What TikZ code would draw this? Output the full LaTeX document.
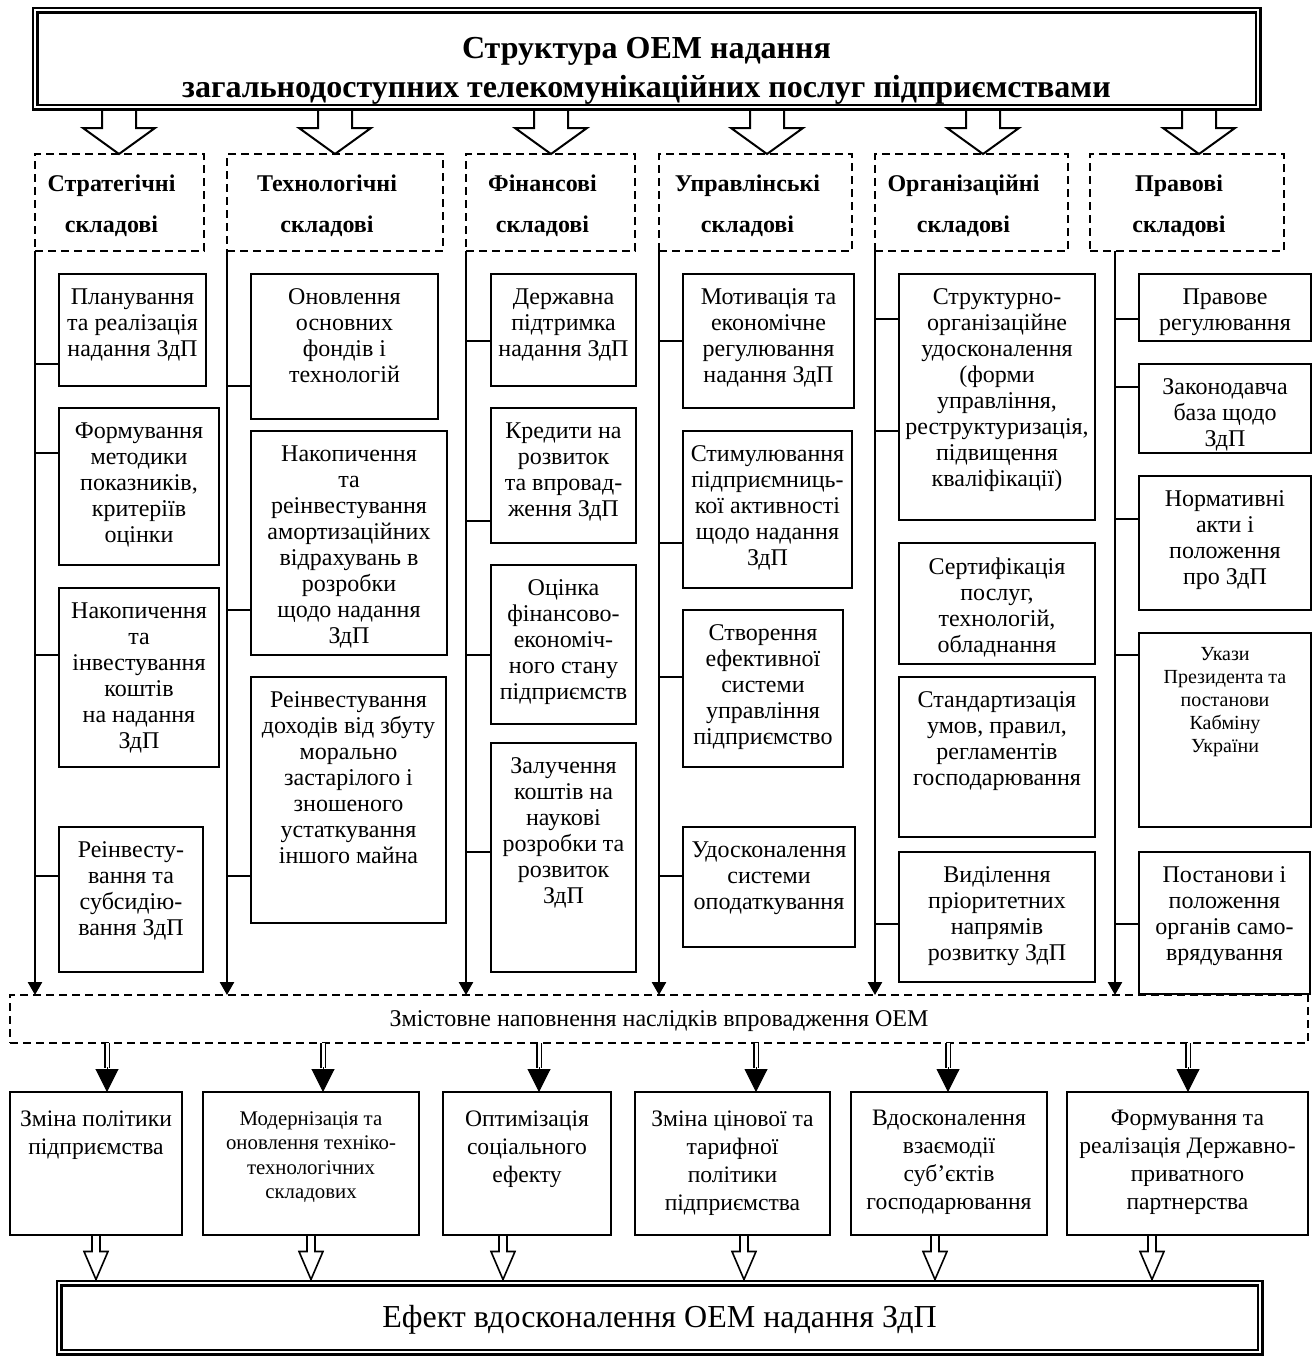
\documentclass[tikz,border=0pt]{standalone}
\usepackage{fontspec}
\setmainfont{Liberation Serif}
\usetikzlibrary{arrows.meta,fit,calc}

\tikzset{
	leaf/.style={draw, line width=1pt, inner sep=0pt, outer sep=0pt},
	leaftext/.style={anchor=north, align=center, inner sep=0pt, font=\fontsize{12}{13}\selectfont},
	catbox/.style={draw, line width=0.9pt, dash pattern=on 4pt off 2.5pt, inner sep=0pt, outer sep=0pt},
	cattext/.style={align=center, inner sep=0pt, font=\bfseries\fontsize{12}{20.5}\selectfont},
	dblbox/.style={draw, line width=1.1pt, double, double distance=1.3pt, inner sep=0pt, outer sep=0pt},
	spine/.style={line width=1.3pt, -{Triangle[length=6.5pt,width=7pt]}},
	tick/.style={line width=1pt},
	twoline/.style={line width=0.9pt, double, double distance=1.5pt},
	solidhead/.style={line width=0.5pt, -{Triangle[length=11.5pt,width=11.5pt]}},
	bigarrow/.style={line width=1pt},
	smallarrow/.style={line width=0.8pt},
	restext/.style={font=\fontsize{11.8}{14}\selectfont, yshift=-2pt},
}

% box with text at the top
\newcommand\leafbox[5][]{%
	\node[leaf, fit={(#3) (#4)}] (#2) {};
	\node[leaftext, #1] (#2-t) at ([yshift=-7pt]#2.north) {#5};
}

% dashed box of a group
\newcommand\catbox[4]{%
	\node[catbox, fit={(#2) (#3)}] (#1) {};
	\node[cattext] (#1-t) at ([xshift=-4pt,yshift=-1.5pt]#1.center) {#4};
}

% hollow block arrow: style, from, to, shaft half width, head half width, head length
\newcommand\blockarrow[6]{%
	\draw[#1] let \p1=(#2), \p2=(#3) in
		(\x1-#4,\y1) -- (\x1-#4,\y2+#6) -- (\x1-#5,\y2+#6) -- (\x2,\y2)
		-- (\x1+#5,\y2+#6) -- (\x1+#4,\y2+#6) -- (\x1+#4,\y1);
}

\begin{document}
\begin{tikzpicture}[x=0.5pt, y=-0.5pt]
	\useasboundingbox (0,0) rectangle (1316,1356);
	
	%% TOP FRAME
	\node[dblbox, fit={(35,10) (1258,107)}] (top) {};
	\node[align=center, inner sep=0pt, font=\bfseries\fontsize{16}{19.5}\selectfont] (title) at ([yshift=-6pt]top.center)
		{Структура ОЕМ надання\\загальнодоступних телекомунікаційних послуг підприємствами};
	\coordinate (topb) at ([yshift=-1.75pt]top.south);
	
	%% CATEGORIES
	\catbox{c1}{35,154}{204,251}{Стратегічні\\складові}
	\catbox{c2}{227,154}{443,251}{Технологічні\\складові}
	\catbox{c3}{466,154}{635,251}{Фінансові\\складові}
	\catbox{c4}{659,154}{852,251}{Управлінські\\складові}
	\catbox{c5}{875,154}{1068,251}{Організаційні\\складові}
	\catbox{c6}{1090,154}{1284,251}{Правові\\складові}
	
	% Arrows from the top frame
	\foreach \i/\px in {1/119, 2/335, 3/551, 4/767, 5/983, 6/1199}
	{
		\coordinate (a\i) at (\px,0);
		\blockarrow{bigarrow}{topb -| a\i}{c\i.north -| a\i}{8.5pt}{18pt}{13pt}
	}
	
	%% BAND
	\node[catbox, fit={(10,995) (1308,1043)}] (band) {};
	\node[inner sep=0pt, font=\fontsize{12}{14}\selectfont] (band-t) at ([yshift=-1pt]band.center)
		{Змістовне наповнення наслідків впровадження ОЕМ};
	
	% Spines
	\coordinate (s1) at (c1.south west);
	\coordinate (s2) at (c2.south west);
	\coordinate (s3) at (c3.south west);
	\coordinate (s4) at (c4.south west);
	\coordinate (s5) at (c5.south west);
	\coordinate (s6) at (1115,251);
	\foreach \i in {1,...,6}
	{
		\draw[spine] (c\i.south -| s\i) -- (band.north -| s\i);
	}
	
	%% STRATEGIC
	\leafbox{A1}{59,274}{206,386}{Планування\\та реалізація\\надання ЗдП}
	\leafbox{A2}{59,408}{219,565}{Формування\\методики\\показників,\\критеріїв\\оцінки}
	\leafbox{A3}{59,588}{219,767}{Накопичення\\та\\інвестування\\коштів\\на надання\\ЗдП}
	\leafbox{A4}{59,827}{203,972}{Реінвесту-\\вання та\\субсидію-\\вання ЗдП}
	
	%% TECHNOLOGICAL
	\leafbox{B1}{251,274}{438,419}{Оновлення\\основних\\фондів і\\технологій}
	\leafbox{B2}{251,431}{447,655}{Накопичення\\та\\реінвестування\\амортизаційних\\відрахувань в\\розробки\\щодо надання\\ЗдП}
	\leafbox{B3}{251,677}{446,923}{Реінвестування\\доходів від збуту\\морально\\застарілого і\\зношеного\\устаткування\\іншого майна}
	
	%% FINANCIAL
	\leafbox{C1}{491,274}{636,386}{Державна\\підтримка\\надання ЗдП}
	\leafbox{C2}{491,408}{636,543}{Кредити на\\розвиток\\та впровад-\\ження ЗдП}
	\leafbox{C3}{491,565}{636,724}{Оцінка\\фінансово-\\економіч-\\ного стану\\підприємств}
	\leafbox{C4}{491,743}{636,972}{Залучення\\коштів на\\наукові\\розробки та\\розвиток\\ЗдП}
	
	%% MANAGEMENT
	\leafbox{D1}{683,274}{854,408}{Мотивація та\\економічне\\регулювання\\надання ЗдП}
	\leafbox{D2}{683,431}{852,588}{Стимулювання\\підприємниць-\\кої активності\\щодо надання\\ЗдП}
	\leafbox{D3}{683,610}{843,767}{Створення\\ефективної\\системи\\управління\\підприємство}
	\leafbox{D4}{683,827}{855,947}{Удосконалення\\системи\\оподаткування}
	
	%% ORGANIZATIONAL
	\leafbox{E1}{899,274}{1095,520}{Структурно-\\організаційне\\удосконалення\\(форми\\управління,\\реструктуризація,\\підвищення\\кваліфікації)}
	\leafbox{E2}{899,543}{1095,664}{Сертифікація\\послуг,\\технологій,\\обладнання}
	\leafbox{E3}{899,677}{1095,837}{Стандартизація\\умов, правил,\\регламентів\\господарювання}
	\leafbox{E4}{899,852}{1095,982}{Виділення\\пріоритетних\\напрямів\\розвитку ЗдП}
	
	%% LEGAL
	\leafbox{F1}{1139,274}{1311,341}{Правове\\регулювання}
	\leafbox{F2}{1139,364}{1311,453}{Законодавча\\база щодо\\ЗдП}
	\leafbox{F3}{1139,476}{1311,610}{Нормативні\\акти і\\положення\\про ЗдП}
	\leafbox[font=\fontsize{10}{11.5}\selectfont]{F4}{1139,633}{1311,827}{Укази\\Президента та\\постанови\\Кабміну\\України}
	\leafbox{F5}{1139,852}{1310,994}{Постанови і\\положення\\органів само-\\врядування}
	
	% Ticks from the spines
	\foreach \s/\b/\y in {s1/A1/364, s1/A2/453, s1/A3/655, s1/A4/876,
		s2/B1/386, s2/B2/610, s2/B3/876,
		s3/C1/341, s3/C2/521, s3/C3/655, s3/C4/852,
		s4/D1/341, s4/D2/543, s4/D3/677, s4/D4/876,
		s5/E1/319, s5/E1/431, s5/E4/924,
		s6/F1/319, s6/F2/387, s6/F3/519, s6/F4/655, s6/F5/924}
	{
		\coordinate (h) at (0,\y);
		\draw[tick] (\s |- h) -- (\b.west |- h);
	}
	
	%% RESULTS
	\leafbox[restext]{G1}{10,1092}{182,1235}{Зміна політики\\підприємства}
	\leafbox[font=\fontsize{10.4}{12.3}\selectfont, yshift=-2.5pt]{G2}{203,1092}{419,1235}{Модернізація та\\оновлення техніко-\\технологічних\\складових}
	\leafbox[restext]{G3}{443,1092}{611,1235}{Оптимізація\\соціального\\ефекту}
	\leafbox[restext]{G4}{635,1092}{830,1235}{Зміна цінової та\\тарифної\\політики\\підприємства}
	\leafbox[restext]{G5}{851,1092}{1047,1235}{Вдосконалення\\взаємодії\\суб’єктів\\господарювання}
	\leafbox[restext]{G6}{1067,1092}{1308,1235}{Формування та\\реалізація Державно-\\приватного\\партнерства}
	
	% Double arrows from the band
	\foreach \i/\px in {1/107, 2/323, 3/539, 4/756, 5/948, 6/1188}
	{
		\coordinate (d\i) at (\px,0);
		\draw[twoline] (band.south -| d\i) -- ++(0,25);
		\draw[solidhead] (band.south -| d\i) ++(0,24) -- (G\i.north -| d\i);
	}
	
	%% EFFECT
	\node[dblbox, fit={(59,1283) (1260,1352)}] (final) {};
	\node[inner sep=0pt, font=\fontsize{16}{20}\selectfont] (final-t) at ([yshift=-1pt]final.center)
		{Ефект вдосконалення ОЕМ надання ЗдП};
	\coordinate (finalt) at ([yshift=1.75pt]final.north);
	
	\foreach \i/\px in {1/96, 2/311, 3/503, 4/744, 5/935, 6/1152}
	{
		\coordinate (e\i) at (\px,0);
		\blockarrow{smallarrow}{G\i.south -| e\i}{finalt -| e\i}{2pt}{6pt}{14pt}
	}
	
\end{tikzpicture}
\end{document}
